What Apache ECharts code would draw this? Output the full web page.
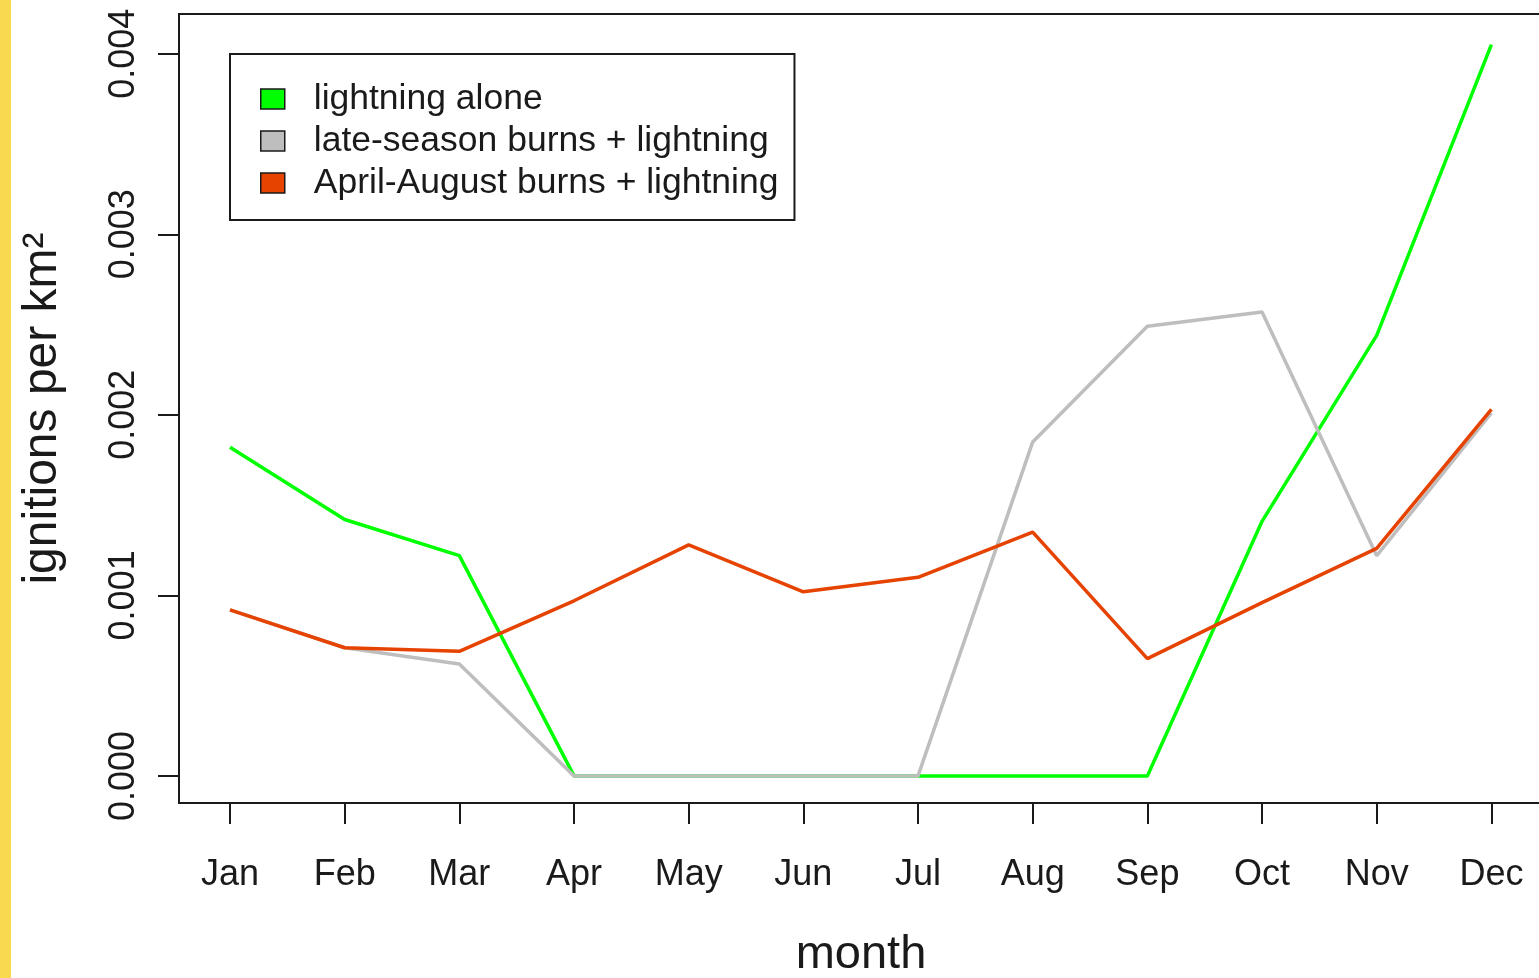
<!DOCTYPE html>
<html>
<head>
<meta charset="utf-8">
<title>Ignitions per km² by month</title>
<script src="https://cdn.jsdelivr.net/npm/echarts@6/dist/echarts.min.js"></script>
<style>
  html, body { margin: 0; padding: 0; background: #fff; overflow: hidden; }
  #chart { width: 1539px; height: 978px; }
  #strip { position: absolute; left: 0; top: 0; width: 11px; height: 978px; background: #f9d94f; z-index: 2; }
</style>
</head>
<body>
<div id="strip"></div>
<div id="chart"></div>
<script>
const months = ['Jan', 'Feb', 'Mar', 'Apr', 'May', 'Jun', 'Jul', 'Aug', 'Sep', 'Oct', 'Nov', 'Dec']
const monthIdx = [1, 2, 3, 4, 5, 6, 7, 8, 9, 10, 11, 12]
const yTicks = [0, 0.001, 0.002, 0.003, 0.004]

// ignitions per km2, one value per month
const lightningAlone = [0.00182, 0.00142, 0.00122, 0, 0, 0, 0, 0, 0, 0.00141, 0.00244, 0.00405]
const lateSeason = [0.00092, 0.00071, 0.00062, 0, 0, 0, 0, 0.00185, 0.00249, 0.00257, 0.00122, 0.00201]
const aprilAugust = [0.00092, 0.00071, 0.00069, 0.00097, 0.00128, 0.00102, 0.0011, 0.00135, 0.00065, 0.00096, 0.00126, 0.00203]

const seriesDefs = [
  { name: 'lightning alone', data: lightningAlone, color: '#00ff00' },
  { name: 'late-season burns + lightning', data: lateSeason, color: '#bebebe' },
  { name: 'April-August burns + lightning', data: aprilAugust, color: '#e64300' },
]

const font = "'Liberation Sans', Arial, sans-serif"
const ink = '#1a1a1a'

const chart = echarts.init(document.getElementById('chart'))
chart.setOption({
  animation: false,
  grid: {
    left: 179, top: 14, width: 1364, bottom: 175,
    outerBoundsMode: 'none',
    show: true, borderColor: ink, borderWidth: 2, backgroundColor: 'transparent',
  },
  legend: {
    orient: 'vertical',
    left: 230, top: 54,
    icon: 'rect',
    itemWidth: 24, itemHeight: 20, itemGap: 0,
    padding: [24, 16, 16, 30],
    borderColor: ink, borderWidth: 2,
    itemStyle: { borderColor: ink, borderWidth: 1.5 },
    textStyle: { fontFamily: font, fontSize: 35.5, color: ink, lineHeight: 42, padding: [0, 0, 0, 24] },
    data: seriesDefs.map((s) => s.name),
  },
  xAxis: {
    type: 'value',
    min: 0.5553, max: 12.45,
    name: 'month', nameLocation: 'middle', nameGap: 129,
    nameTextStyle: { fontFamily: font, fontSize: 47, color: ink },
    axisLine: { show: false, onZero: false },
    splitLine: { show: false },
    axisTick: { customValues: monthIdx, length: 21, lineStyle: { color: ink, width: 2 } },
    axisLabel: {
      customValues: monthIdx, margin: 54,
      fontFamily: font, fontSize: 36, color: ink,
      formatter: (v) => months[Math.round(v) - 1],
    },
  },
  yAxis: {
    type: 'value',
    min: -0.00015, max: 0.00422,
    name: 'ignitions per km²', nameLocation: 'middle', nameGap: 112,
    nameTextStyle: { fontFamily: font, fontSize: 48, color: ink },
    axisLine: { show: false, onZero: false },
    splitLine: { show: false },
    axisTick: { customValues: yTicks, length: 21, lineStyle: { color: ink, width: 2 } },
    axisLabel: {
      customValues: yTicks, margin: 37, rotate: 90,
      fontFamily: font, fontSize: 36, color: ink,
      formatter: (v) => v.toFixed(3),
    },
  },
  series: seriesDefs.map((s) => ({
    name: s.name,
    type: 'line',
    data: s.data.map((v, i) => [monthIdx[i], v]),
    color: s.color,
    showSymbol: false,
    lineStyle: { color: s.color, width: 3.5 },
  })),
})
</script>
</body>
</html>
